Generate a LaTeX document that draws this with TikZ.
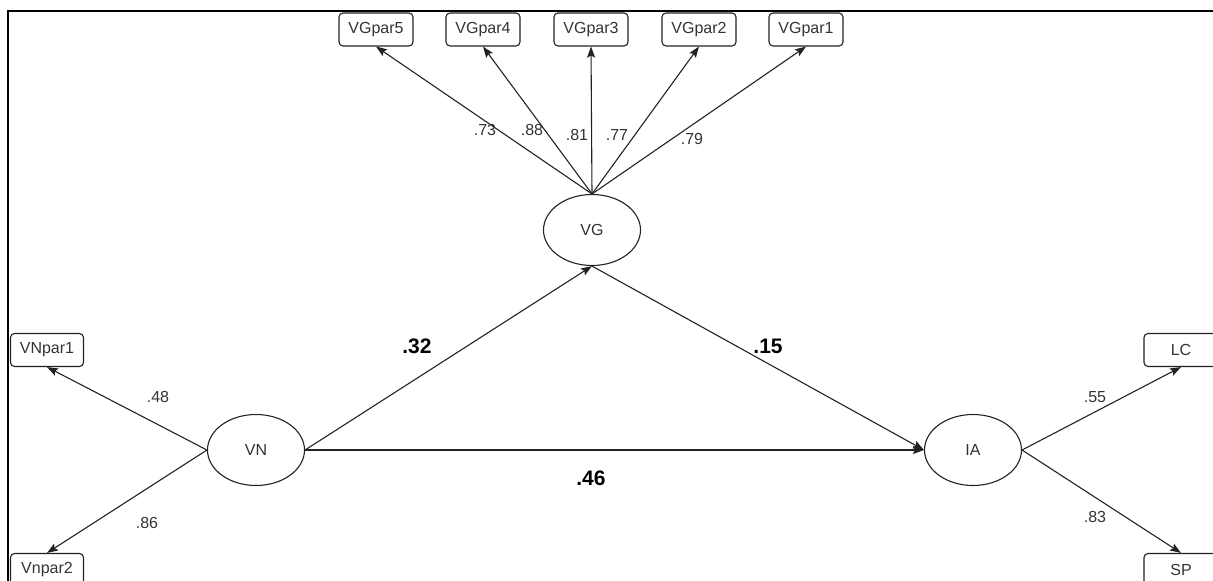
\documentclass[tikz,border=0pt]{standalone}
\usepackage{fontspec}
\setmainfont{Liberation Sans}
\usetikzlibrary{arrows.meta,shapes.geometric}
\definecolor{ink}{HTML}{222222}
\definecolor{txt}{HTML}{333333}
\begin{document}
\begin{tikzpicture}[x=1pt,y=-1pt,
  every node/.style={font=\fontsize{16}{19}\selectfont, text=txt, inner sep=0pt},
  latent/.style={ellipse, draw=ink, line width=1.1pt, minimum width=97pt, minimum height=71pt},
  obsbox/.style={rectangle, rounded corners=4pt, draw=ink, line width=1.1pt, minimum width=74pt, minimum height=33pt},
  path/.style={draw=ink, line width=1.1pt, -{Stealth[length=11pt,width=8pt,inset=2pt]}},
  coef/.style={font=\fontsize{16}{19}\selectfont},
  bcoef/.style={font=\fontsize{21}{24}\selectfont\bfseries, text=black}
]
\useasboundingbox (0,0) rectangle (1213,581);
% frame
\draw[line width=2.2pt, black] (1213,11) -- (8,11) -- (8,581);

% latent variables
\node[latent] (VG) at (592,230) {VG};
\node[latent] (VN) at (256,450) {VN};
\node[latent] (IA) at (973,450) {IA};

% indicators of VG
\node[obsbox] (g5) at (376,29.5) {VGpar5};
\node[obsbox] (g4) at (483,29.5) {VGpar4};
\node[obsbox] (g3) at (591,29.5) {VGpar3};
\node[obsbox] (g2) at (699,29.5) {VGpar2};
\node[obsbox] (g1) at (806,29.5) {VGpar1};

% indicators of VN
\node[obsbox, minimum width=73pt] (n1) at (47,350) {VNpar1};
\node[obsbox, minimum width=73pt] (n2) at (47,570) {Vnpar2};

% indicators of IA
\node[obsbox] (lc) at (1181,350) {LC};
\node[obsbox] (sp) at (1181,570) {SP};

% loadings
\draw[path] (VG.north) -- (g5.south);
\draw[path] (VG.north) -- (g4.south);
\draw[path] (VG.north) -- (g3.south);
\draw[path] (VG.north) -- (g2.south);
\draw[path] (VG.north) -- (g1.south);
\draw[path] (VN.west) -- (n1.south);
\draw[path] (VN.west) -- (n2.north);
\draw[path] (IA.east) -- (lc.south);
\draw[path] (IA.east) -- (sp.north);

% structural paths
\draw[path] (VN.east) -- (VG.south);
\draw[path] (VG.south) -- (IA.west);
\draw[path] (VN.east) -- (IA.west);

% loading labels
\node[coef] (l73) at (485,130) {.73};
\node[coef] (l88) at (532,130) {.88};
\node[coef] (l81) at (577,135) {.81};
\node[coef] (l77) at (617,135) {.77};
\node[coef] (l79) at (692,139) {.79};
\node[coef] (l48) at (158,397) {.48};
\node[coef] (l86) at (147,523) {.86};
\node[coef] (l55) at (1095,397) {.55};
\node[coef] (l83) at (1095,517) {.83};

% structural labels
\node[bcoef] (b32) at (417,346) {.32};
\node[bcoef] (b15) at (768,346) {.15};
\node[bcoef] (b46) at (591,478) {.46};
\end{tikzpicture}
\end{document}
